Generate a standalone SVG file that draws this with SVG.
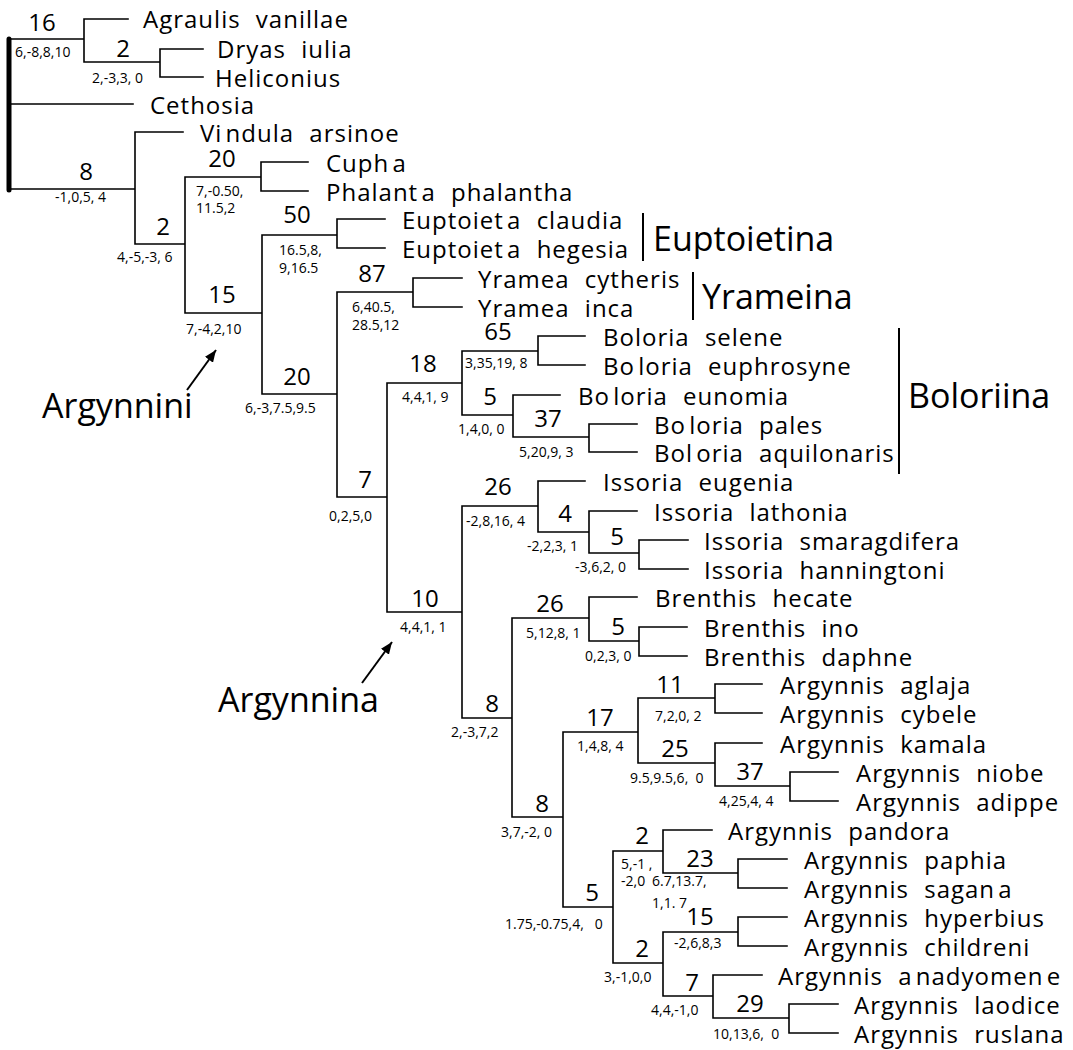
<svg xmlns="http://www.w3.org/2000/svg" width="1073" height="1050" viewBox="0 0 1073 1050">
<style>
text{font-family:"Open Sans","Noto Sans","Liberation Sans",sans-serif;fill:#000}
.t{font-size:24px;letter-spacing:1px;word-spacing:8px}
.g{word-spacing:-4px}
.s{font-size:24px;text-anchor:middle}
.n{font-size:14px;white-space:pre}
.c{font-size:34px}
.e{stroke:#000;stroke-width:1.6;fill:none;stroke-linecap:square}
.b{stroke:#000;stroke-width:2;fill:none}
</style>
<defs>
<marker id="ah" viewBox="0 0 12 10" refX="12" refY="5" markerWidth="12" markerHeight="10" markerUnits="userSpaceOnUse" orient="auto"><path d="M0,0 L12,5 L0,10 z" fill="#000"/></marker>
</defs>
<rect width="1073" height="1050" fill="#fff"/>
<g id="connectors">
<line x1="9" y1="39" x2="9" y2="190" stroke="#000" stroke-width="5" stroke-linecap="round"/>
<path class="e" d="M9,39H84 M84,19V62 M84,19H128 M84,62H160 M160,49V77 M160,49H203 M160,77H203
M9,104H133
M9,189H135 M135,132V244 M135,132H183 M135,244H185 M185,177V313
M185,177H261 M261,162V191 M261,162H308 M261,191H308
M185,313H262 M262,235V394 M262,235H337 M337,219V248 M337,219H385 M337,248H385
M262,394H337 M337,292V497 M337,292H413 M413,278V307 M413,278H462 M413,307H462
M337,497H387 M387,383V612
M387,383H462 M462,351V415 M462,351H538 M538,336V365 M538,336H585 M538,365H585
M462,415H513 M513,395V437 M513,395H560 M513,437H589 M589,424V452 M589,424H637 M589,452H637
M387,612H462 M462,506V718
M462,506H538 M538,481V532 M538,481H585 M538,532H589 M589,511V553 M589,511H637 M589,553H639 M639,540V569 M639,540H688 M639,569H688
M462,718H512 M512,618V817
M512,618H589 M589,597V641 M589,597H637 M589,641H639 M639,627V656 M639,627H687 M639,656H687
M512,817H563 M563,732V907
M563,732H638 M638,698V763 M638,698H715 M715,684V713 M715,684H762 M715,713H762
M638,763H715 M715,743V786 M715,743H762 M715,786H790 M790,772V801 M790,772H838 M790,801H838
M563,907H613 M613,851V963
M613,851H663 M663,830V873 M663,830H712 M663,873H738 M738,859V888 M738,859H787 M738,888H787
M613,963H663 M663,932V996
M663,932H738 M738,917V946 M738,917H787 M738,946H787
M663,996H713 M713,975V1018 M713,975H762 M713,1018H789 M789,1004V1033 M789,1004H838 M789,1033H838"/>
<line class="b" x1="187" y1="390" x2="216" y2="350" marker-end="url(#ah)"/>
<line class="b" x1="362" y1="683" x2="392" y2="642" marker-end="url(#ah)"/>
<line class="b" x1="643" y1="213" x2="643" y2="261"/>
<line class="b" x1="693" y1="272" x2="693" y2="320"/>
<line class="b" x1="899" y1="328" x2="899" y2="474"/>
</g>
<g id="taxa">
<g id="tx-agraulis"><text class="t" x="143" y="28">Agraulis vanillae</text></g>
<g id="tx-dryas"><text class="t" x="217" y="58">Dryas iulia</text></g>
<g id="tx-heliconius"><text class="t" x="215" y="87">Heliconius</text></g>
<g id="tx-cethosia"><text class="t" x="150" y="114">Cethosia</text></g>
<g id="tx-vindula"><text class="t" x="200" y="142"><tspan class="g">Vi ndula</tspan> arsinoe</text></g>
<g id="tx-cupha"><text class="t" x="326" y="172"><tspan class="g">Cuph a</tspan></text></g>
<g id="tx-phalanta"><text class="t" x="326" y="201"><tspan class="g">Phalant a</tspan> phalantha</text></g>
<g id="tx-eup-claudia"><text class="t" x="402" y="229"><tspan class="g">Euptoiet a</tspan> claudia</text></g>
<g id="tx-eup-hegesia"><text class="t" x="402" y="258"><tspan class="g">Euptoiet a</tspan> hegesia</text></g>
<g id="tx-yr-cytheris"><text class="t" x="478" y="288">Yramea cytheris</text></g>
<g id="tx-yr-inca"><text class="t" x="478" y="317">Yramea inca</text></g>
<g id="tx-bol-selene"><text class="t" x="603" y="346">Boloria selene</text></g>
<g id="tx-bol-euphrosyne"><text class="t" x="603" y="375"><tspan class="g">Bo loria</tspan> euphrosyne</text></g>
<g id="tx-bol-eunomia"><text class="t" x="578" y="405"><tspan class="g">Bo loria</tspan> eunomia</text></g>
<g id="tx-bol-pales"><text class="t" x="654" y="434"><tspan class="g">Bo loria</tspan> pales</text></g>
<g id="tx-bol-aquilonaris"><text class="t" x="654" y="462"><tspan class="g">Bol oria</tspan> aquilonaris</text></g>
<g id="tx-iss-eugenia"><text class="t" x="603" y="491">Issoria eugenia</text></g>
<g id="tx-iss-lathonia"><text class="t" x="654" y="521">Issoria lathonia</text></g>
<g id="tx-iss-smaragdifera"><text class="t" x="704" y="550">Issoria smaragdifera</text></g>
<g id="tx-iss-hanningtoni"><text class="t" x="704" y="579">Issoria hanningtoni</text></g>
<g id="tx-bre-hecate"><text class="t" x="655" y="607">Brenthis hecate</text></g>
<g id="tx-bre-ino"><text class="t" x="704" y="637">Brenthis ino</text></g>
<g id="tx-bre-daphne"><text class="t" x="704" y="666">Brenthis daphne</text></g>
<g id="tx-arg-aglaja"><text class="t" x="780" y="694">Argynnis aglaja</text></g>
<g id="tx-arg-cybele"><text class="t" x="780" y="723">Argynnis cybele</text></g>
<g id="tx-arg-kamala"><text class="t" x="780" y="753">Argynnis kamala</text></g>
<g id="tx-arg-niobe"><text class="t" x="856" y="782">Argynnis niobe</text></g>
<g id="tx-arg-adippe"><text class="t" x="856" y="811">Argynnis adippe</text></g>
<g id="tx-arg-pandora"><text class="t" x="728" y="840">Argynnis pandora</text></g>
<g id="tx-arg-paphia"><text class="t" x="804" y="869">Argynnis paphia</text></g>
<g id="tx-arg-sagana"><text class="t" x="804" y="898">Argynnis <tspan class="g">sagan a</tspan></text></g>
<g id="tx-arg-hyperbius"><text class="t" x="804" y="927">Argynnis hyperbius</text></g>
<g id="tx-arg-childreni"><text class="t" x="804" y="956">Argynnis childreni</text></g>
<g id="tx-arg-anadyomene"><text class="t" x="778" y="985">Argynnis <tspan class="g">a nadyomen e</tspan></text></g>
<g id="tx-arg-laodice"><text class="t" x="854" y="1014">Argynnis laodice</text></g>
<g id="tx-arg-ruslana"><text class="t" x="854" y="1043">Argynnis ruslana</text></g>
</g>
<g id="nodes">
<g id="n1"><text class="s" x="42" y="31">16</text><text class="n" x="15" y="57">6,-8,8,10</text></g>
<g id="n2"><text class="s" x="123" y="57">2</text><text class="n" x="92" y="83">2,-3,3, 0</text></g>
<g id="n3"><text class="s" x="86" y="180">8</text><text class="n" x="55" y="202">-1,0,5, 4</text></g>
<g id="n4"><text class="s" x="163" y="235">2</text><text class="n" x="117" y="262">4,-5,-3, 6</text></g>
<g id="n5"><text class="s" x="222" y="167">20</text><text class="n" x="196" y="196">7,-0.50,</text><text class="n" x="196" y="213">11.5,2</text></g>
<g id="n6"><text class="s" x="222" y="303">15</text><text class="n" x="186" y="334">7,-4,2,10</text></g>
<g id="n7"><text class="s" x="297" y="223">50</text><text class="n" x="279" y="255">16.5,8,</text><text class="n" x="279" y="273">9,16.5</text></g>
<g id="n8"><text class="s" x="297" y="385">20</text><text class="n" x="245" y="413">6,-3,7.5,9.5</text></g>
<g id="n9"><text class="s" x="372" y="282">87</text><text class="n" x="352" y="312">6,40.5,</text><text class="n" x="352" y="330">28.5,12</text></g>
<g id="n10"><text class="s" x="365" y="488">7</text><text class="n" x="329" y="521">0,2,5,0</text></g>
<g id="n11"><text class="s" x="423" y="372">18</text><text class="n" x="402" y="402">4,4,1, 9</text></g>
<g id="n12"><text class="s" x="498" y="340">65</text><text class="n" x="465" y="368">3,35,19, 8</text></g>
<g id="n13"><text class="s" x="490" y="405">5</text><text class="n" x="458" y="434">1,4,0, 0</text></g>
<g id="n14"><text class="s" x="548" y="427">37</text><text class="n" x="519" y="457">5,20,9, 3</text></g>
<g id="n15"><text class="s" x="425" y="607">10</text><text class="n" x="400" y="632">4,4,1, 1</text></g>
<g id="n16"><text class="s" x="498" y="495">26</text><text class="n" x="466" y="526">-2,8,16, 4</text></g>
<g id="n17"><text class="s" x="565" y="522">4</text><text class="n" x="527" y="551">-2,2,3, 1</text></g>
<g id="n18"><text class="s" x="617" y="545">5</text><text class="n" x="575" y="572">-3,6,2, 0</text></g>
<g id="n19"><text class="s" x="492" y="712">8</text><text class="n" x="451" y="737">2,-3,7,2</text></g>
<g id="n20"><text class="s" x="550" y="612">26</text><text class="n" x="526" y="638">5,12,8, 1</text></g>
<g id="n21"><text class="s" x="618" y="635">5</text><text class="n" x="585" y="661">0,2,3, 0</text></g>
<g id="n22"><text class="s" x="542" y="812">8</text><text class="n" x="501" y="837">3,7,-2, 0</text></g>
<g id="n23"><text class="s" x="600" y="726">17</text><text class="n" x="577" y="751">1,4,8, 4</text></g>
<g id="n24"><text class="s" x="670" y="693">11</text><text class="n" x="655" y="721">7,2,0, 2</text></g>
<g id="n25"><text class="s" x="675" y="757">25</text><text class="n" x="630" y="783" xml:space="preserve">9.5,9.5,6,  0</text></g>
<g id="n26"><text class="s" x="750" y="780">37</text><text class="n" x="719" y="806">4,25,4, 4</text></g>
<g id="n27"><text class="s" x="592" y="901">5</text><text class="n" x="505" y="929" xml:space="preserve">1.75,-0.75,4,   0</text></g>
<g id="n28"><text class="s" x="642" y="844">2</text><text class="n" x="621" y="869">5,-1 ,</text><text class="n" x="621" y="886">-2,0</text></g>
<g id="n29"><text class="s" x="700" y="867">23</text><text class="n" x="652" y="886">6.7,13.7,</text><text class="n" x="652" y="908">1,1. 7</text></g>
<g id="n30"><text class="s" x="642" y="957">2</text><text class="n" x="604" y="982">3,-1,0,0</text></g>
<g id="n31"><text class="s" x="700" y="925">15</text><text class="n" x="674" y="948">-2,6,8,3</text></g>
<g id="n32"><text class="s" x="692" y="991">7</text><text class="n" x="651" y="1015">4,4,-1,0</text></g>
<g id="n33"><text class="s" x="750" y="1012">29</text><text class="n" x="713" y="1039" xml:space="preserve">10,13,6,  0</text></g>
</g>
<g id="clades">
<g id="cl-euptoietina"><text class="c" x="653" y="251">Euptoietina</text></g>
<g id="cl-yrameina"><text class="c" x="702" y="309">Yrameina</text></g>
<g id="cl-boloriina"><text class="c" x="908" y="408">Boloriina</text></g>
<g id="cl-argynnini"><text class="c" x="42" y="418">Argynnini</text></g>
<g id="cl-argynnina"><text class="c" x="218" y="712">Argynnina</text></g>
</g>
</svg>
